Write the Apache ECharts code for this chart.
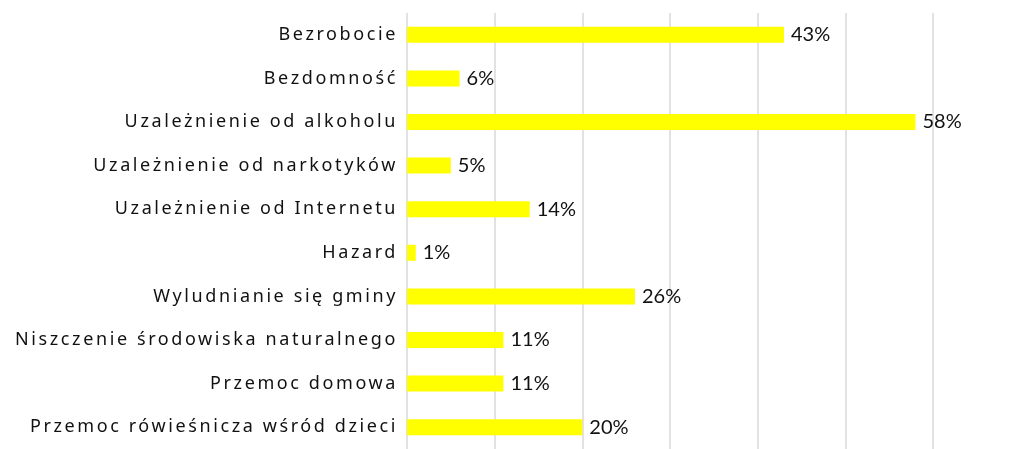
<!DOCTYPE html>
<html>
<head>
<meta charset="utf-8">
<script src="https://cdn.jsdelivr.net/npm/echarts@6/dist/echarts.min.js"></script>
<style>
  html, body { margin: 0; padding: 0; background: #fff; }
  #chart { width: 1016px; height: 449px; }
</style>
</head>
<body>
<div id="chart"></div>
<script>
const categories = [
  "Bezrobocie",
  "Bezdomność",
  "Uzależnienie od alkoholu",
  "Uzależnienie od narkotyków",
  "Uzależnienie od Internetu",
  "Hazard",
  "Wyludnianie się gminy",
  "Niszczenie środowiska naturalnego",
  "Przemoc domowa",
  "Przemoc rówieśnicza wśród dzieci"
];
const percentValues = [43, 6, 58, 5, 14, 1, 26, 11, 11, 20];

// the category labels in the original are drawn with wide letter spacing;
// zrender has no option for that, so add it on the canvas for that font only.
// chrome only picks up a letterSpacing change after the font is set again
const baseFillText = CanvasRenderingContext2D.prototype.fillText;
CanvasRenderingContext2D.prototype.fillText = function () {
  const font = this.font;
  const spaced = font.indexOf("Noto Sans") >= 0;
  this.letterSpacing = spaced ? "2.6px" : "0px";
  this.font = font;
  baseFillText.apply(this, arguments);
  if (spaced) {
    this.letterSpacing = "0px";
    this.font = font;
  }
};

const chart = echarts.init(document.getElementById("chart"), null, { renderer: "canvas" });

const option = {
  animation: false,
  backgroundColor: "#ffffff",
  grid: {
    left: 407,
    top: 13,
    width: 526,
    height: 446
  },
  xAxis: {
    type: "value",
    min: 0,
    max: 60,
    interval: 10,
    axisLabel: { show: false },
    axisLine: { show: false },
    axisTick: { show: false },
    splitLine: { show: true, lineStyle: { color: "#d9d9d9", width: 1.5 } }
  },
  yAxis: {
    type: "category",
    inverse: true,
    data: categories,
    axisLine: { show: false },
    axisTick: { show: false },
    axisLabel: {
      margin: 9,
      color: "#111",
      fontSize: 18,
      fontFamily: "Noto Sans"
    }
  },
  series: [
    {
      type: "bar",
      data: percentValues,
      barWidth: 16,
      itemStyle: { color: "#ffff00" },
      label: {
        show: true,
        position: "right",
        distance: 7,
        color: "#111",
        fontSize: 20,
        fontFamily: "Lato",
        formatter: (p) => p.value + "%"
      }
    }
  ]
};

chart.setOption(option);
</script>
</body>
</html>
